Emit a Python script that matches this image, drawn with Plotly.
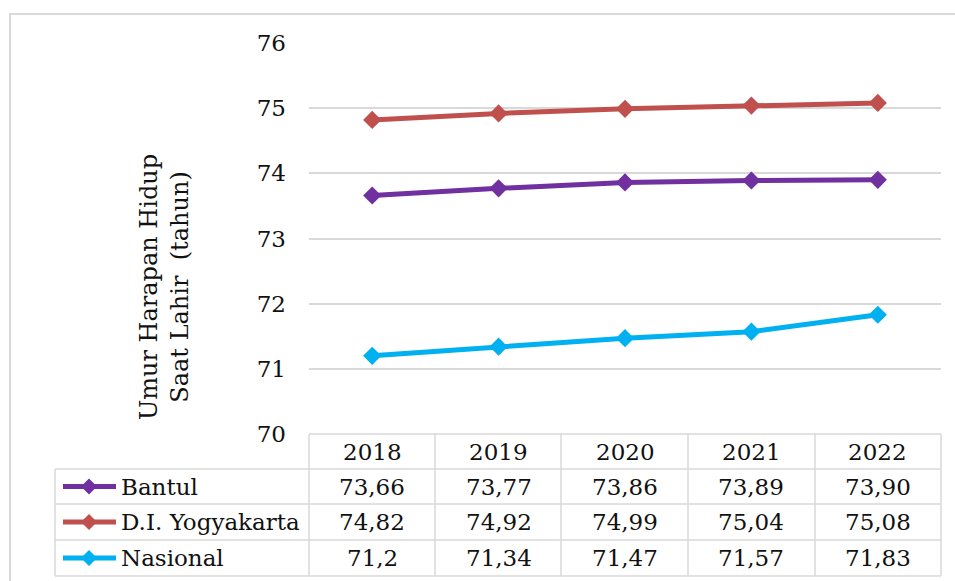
import plotly.graph_objects as go

# data
years = ["2018", "2019", "2020", "2021", "2022"]
bantul = [73.66, 73.77, 73.86, 73.89, 73.90]
diy = [74.82, 74.92, 74.99, 75.04, 75.08]
nasional = [71.2, 71.34, 71.47, 71.57, 71.83]
bantul_lbl = ["73,66", "73,77", "73,86", "73,89", "73,90"]
diy_lbl = ["74,82", "74,92", "74,99", "75,04", "75,08"]
nasional_lbl = ["71,2", "71,34", "71,47", "71,57", "71,83"]

series = [
    ("Bantul", bantul, bantul_lbl, "#7030A0"),
    ("D.I. Yogyakarta", diy, diy_lbl, "#C0504D"),
    ("Nasional", nasional, nasional_lbl, "#00B0F0"),
]

W, H = 955, 581
FONT = "DejaVu Serif"
GRID = "#d9d9d9"
TXT = "#111111"


def px(x):  # pixel -> paper x
    return x / W


def py(y):  # pixel (from top) -> paper y
    return 1 - y / H


fig = go.Figure()
for name, vals, _, col in series:
    fig.add_trace(go.Scatter(x=years, y=vals, name=name, mode="lines+markers",
                             line=dict(color=col, width=5),
                             marker=dict(symbol="diamond", size=14, color=col)))

shapes = []
annots = []

# outer chart border
shapes.append(dict(type="rect", xref="paper", yref="paper", x0=px(10), x1=px(970),
                   y0=py(600), y1=py(14), line=dict(color=GRID, width=2)))

# data table grid
rows = [434, 469, 504, 540, 576]
cols = [309, 435, 561, 688, 815, 941]
for i, y in enumerate(rows):
    x0 = cols[0] if i == 0 else 55
    shapes.append(dict(type="line", xref="paper", yref="paper", x0=px(x0), x1=px(cols[-1]),
                       y0=py(y), y1=py(y), line=dict(color=GRID, width=1.5)))
for x in cols:
    shapes.append(dict(type="line", xref="paper", yref="paper", x0=px(x), x1=px(x),
                       y0=py(rows[0]), y1=py(rows[-1]), line=dict(color=GRID, width=1.5)))
shapes.append(dict(type="line", xref="paper", yref="paper", x0=px(55), x1=px(55),
                   y0=py(rows[1]), y1=py(rows[-1]), line=dict(color=GRID, width=1.5)))

# header: years (category index on the x axis)
for i, yr in enumerate(years):
    annots.append(dict(x=i, y=py((rows[0] + rows[1]) / 2), xref="x", yref="paper",
                       xanchor="center", yanchor="middle",
                       text=yr, showarrow=False, font=dict(size=23, color=TXT)))

# rows: legend key + values
for r, (name, vals, lbls, col) in enumerate(series):
    yc = (rows[r + 1] + rows[r + 2]) / 2
    shapes.append(dict(type="line", xref="paper", yref="paper", x0=px(63), x1=px(116),
                       y0=py(yc), y1=py(yc), line=dict(color=col, width=5)))
    d = 8
    shapes.append(dict(type="path", xref="paper", yref="paper", fillcolor=col, line=dict(width=0),
                       path=f"M {px(89 - d)},{py(yc)} L {px(89)},{py(yc - d)} L {px(89 + d)},{py(yc)} L {px(89)},{py(yc + d)} Z"))
    annots.append(dict(x=px(119), y=py(yc), xref="paper", yref="paper",
                       xanchor="left", yanchor="middle",
                       text=name, showarrow=False, font=dict(size=23, color=TXT)))
    for i, lb in enumerate(lbls):
        annots.append(dict(x=i, y=py(yc), xref="x", yref="paper", text=lb,
                           xanchor="center", yanchor="middle",
                           showarrow=False, font=dict(size=23, color=TXT)))

# axis title
annots.append(dict(x=px(165), y=py(287), xref="paper", yref="paper", textangle=-90,
                   xanchor="center", yanchor="middle",
                   text="Umur Harapan Hidup<br>Saat Lahir&nbsp; (tahun)", showarrow=False,
                   font=dict(size=24, color=TXT)))

fig.update_layout(
    width=W, height=H, showlegend=False,
    margin=dict(l=0, r=0, t=0, b=0, pad=0),
    paper_bgcolor="white", plot_bgcolor="white",
    font=dict(family=FONT, size=23, color=TXT),
    xaxis=dict(type="category", domain=[px(309), px(941)], range=[-0.5, 4.5], automargin=False,
               showticklabels=False, showgrid=False, zeroline=False, showline=False, ticks=""),
    yaxis=dict(domain=[py(434), py(43)], range=[70, 76], dtick=1, showgrid=True, automargin=False,
               gridcolor=GRID, gridwidth=1.5, zeroline=False, showline=False,
               ticklabelstandoff=22, tickfont=dict(size=23, family=FONT, color=TXT)),
    shapes=shapes, annotations=annots,
)

fig.write_html("out.html", config={"displayModeBar": False},
               post_script="document.body.style.margin='0';document.body.style.overflow='hidden';")
